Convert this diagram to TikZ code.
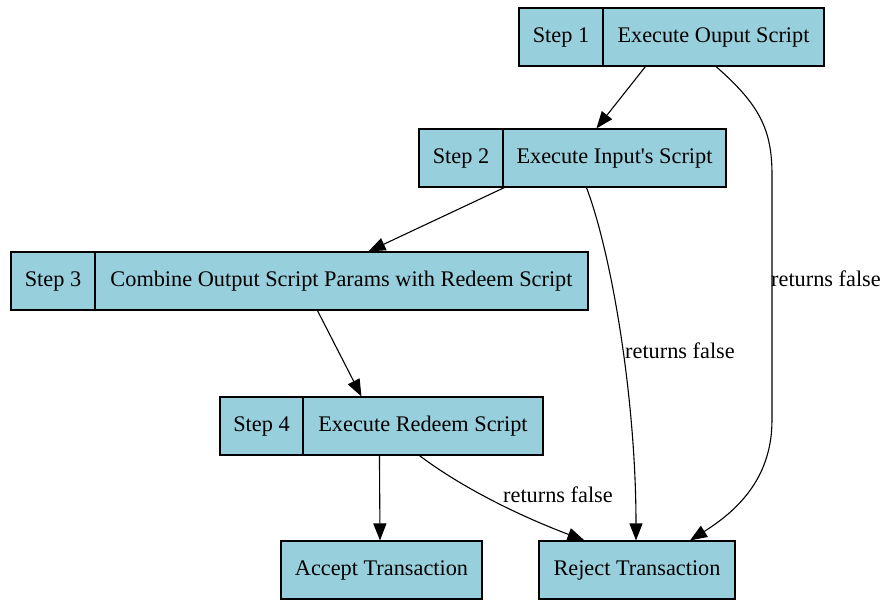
\documentclass[tikz,border=0pt]{standalone}
\usepackage{fontspec}
\setmainfont{Liberation Serif}[Ligatures=TeXOff]
\usetikzlibrary{arrows.meta,calc}
\definecolor{recfill}{RGB}{152,207,220}
\begin{document}
\begin{tikzpicture}[x=1pt,y=-1pt,
  cell/.style={draw=black,line width=1.1pt,fill=recfill,minimum height=58pt,inner sep=0pt,
    font=\fontsize{22.3}{26}\selectfont},
  edge/.style={draw=black,line width=1.1pt,-{Triangle[length=17pt,width=13pt]}},
  lbl/.style={font=\fontsize{22.3}{26}\selectfont,inner sep=0pt}]
\useasboundingbox (0,0) rectangle (884,601);
% record nodes, drawn as adjacent cells
\node[cell,minimum width=84pt]  (s1l) at (561,37)    {\strut Step 1};
\node[cell,minimum width=221pt] (s1r) at (713.5,37)  {\strut Execute Ouput Script};
\node[cell,minimum width=84pt]  (s2l) at (461,158)   {\strut Step 2};
\node[cell,minimum width=223pt] (s2r) at (614.5,158) {\strut Execute Input's Script};
\node[cell,minimum width=84pt]  (s3l) at (53,281)    {\strut Step 3};
\node[cell,minimum width=493pt] (s3r) at (341.5,281) {\strut Combine Output Script Params with Redeem Script};
\node[cell,minimum width=83pt]  (s4l) at (261.5,426) {\strut Step 4};
\node[cell,minimum width=240pt] (s4r) at (423,426)   {\strut Execute Redeem Script};
\node[cell,minimum width=201pt] (acc) at (381.5,570) {\strut Accept Transaction};
\node[cell,minimum width=196pt] (rej) at (637,570)   {\strut Reject Transaction};
% connectors
\draw[edge] ($(s1r.south west)+(43,0)$) -- ($(s2r.north west)+(94,0)$);
\draw[edge] ($(s1r.south)+(2.5,0)$) .. controls (760,105) and (772,130) .. (772,175)
  -- (772,420) .. controls (772,480) and (735,512) .. ($(rej.north)+(53,0)$);
\node[lbl] (l1) at (826,281) {\strut returns false};
\draw[edge] ($(s2r.south west)+(2,0)$) -- ($(s3r.north west)+(274,0)$);
\draw[edge] ($(s2r.south west)+(84,0)$) .. controls (612,255) and (636,400) .. ($(rej.north)+(-1,0)$);
\node[lbl] (l2) at (680,353) {\strut returns false};
\draw[edge] ($(s3r.south west)+(223,0)$) -- ($(s4r.north west)+(59,0)$);
\draw[edge] ($(s4r.south west)+(77,0)$) -- ($(acc.north)+(-1.5,0)$);
\draw[edge] ($(s4r.south west)+(117,0)$) .. controls (465,490) and (525,518) .. ($(rej.north west)+(46,0)$);
\node[lbl] (l3) at (558,497) {\strut returns false};
\end{tikzpicture}
\end{document}
